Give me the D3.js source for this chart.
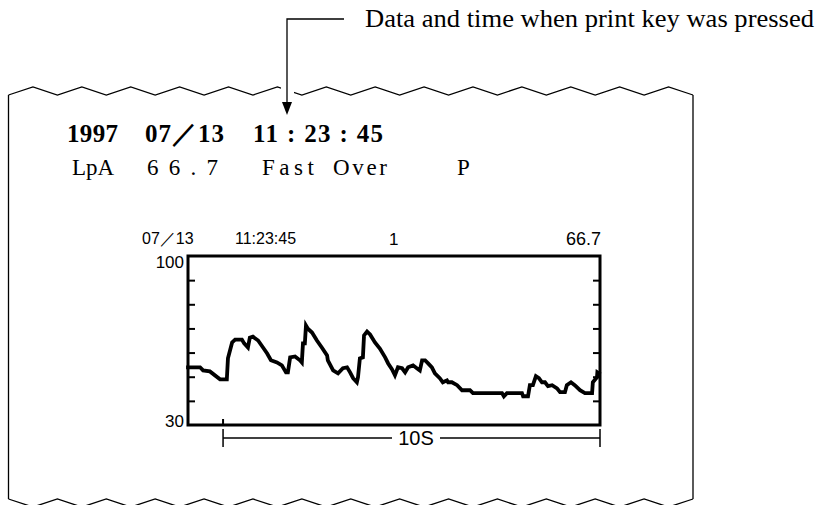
<!DOCTYPE html>
<html><head><meta charset="utf-8">
<script src="https://cdn.jsdelivr.net/npm/d3@7"></script>
<style>body{margin:0;background:#fff}svg{display:block}</style>
</head><body>
<svg id="c" width="820" height="505"></svg>
<script>
// ---- data ----
const annotation = "Data and time when print key was pressed";
const headerYear = "1997";
const headerDate = "07／13";
const headerTime = "11 : 23 : 45";
const statusTokens = ["LpA", "66.7", "Fast", "Over", "P"];
const chartDate = "07／13";
const chartTime = "11:23:45";
const chartChannel = "1";
const chartValue = "66.7";
const yDomain = [30, 100];
const yTickValues = [40, 50, 60, 70, 80, 90];
const yLabels = [100, 30];
const spanLabel = "10S";
const spanStart = 0.93, spanSeconds = 10;
const timeDomain = [0, 10.93];
// time (s) and level (dB) of the recorded trace
const times = [0.00,0.32,0.40,0.58,0.85,1.03,1.06,1.17,1.25,1.43,1.49,1.59,1.64,1.72,1.86,1.99,2.10,2.20,2.36,2.49,2.60,2.65,2.71,2.84,2.97,3.02,3.05,3.10,3.13,3.18,3.29,3.42,3.55,3.69,3.71,3.85,3.98,4.11,4.22,4.30,4.38,4.48,4.51,4.56,4.64,4.67,4.75,4.83,4.96,5.09,5.23,5.31,5.41,5.49,5.57,5.68,5.76,5.84,5.97,6.07,6.15,6.21,6.29,6.37,6.47,6.55,6.68,6.76,6.87,6.90,7.00,7.14,7.27,7.43,7.48,7.56,8.33,8.38,8.46,8.86,8.89,9.02,9.07,9.15,9.23,9.31,9.39,9.47,9.55,9.66,9.79,9.87,10.00,10.05,10.16,10.26,10.40,10.53,10.72,10.74,10.85,10.86,10.90];
const levels = [53.9,53.9,52.6,52.2,48.9,48.9,57.6,64.2,65.4,65.4,63.8,62.1,66.2,66.6,65.0,62.1,59.6,56.8,55.9,54.7,51.8,51.8,58.0,58.4,56.8,55.9,63.8,63.8,71.2,69.9,68.3,65.0,62.1,58.8,56.8,52.6,51.4,53.5,53.9,51.8,49.4,47.7,49.8,57.6,58.0,67.1,68.7,67.5,64.2,61.7,58.0,55.5,53.1,50.6,53.9,53.5,51.8,53.9,54.7,53.5,52.6,56.8,56.8,55.5,53.9,51.4,49.4,47.7,48.5,47.7,47.7,46.5,44.4,44.4,44.4,43.2,43.2,41.9,43.2,43.2,41.9,41.9,46.5,46.5,50.2,49.4,47.7,47.7,46.1,46.5,45.2,43.6,43.6,46.5,47.7,46.5,44.4,43.2,43.2,47.7,49.8,51.8,51.4];

// ---- drawing ----
const svg = d3.select("#c");
const ink = "#000";

// paper outline
const paperL = 8.5, paperR = 693, paperTop = 95, paperBot = 499, amp = 8, nZig = 28;
const zx = d3.scaleLinear().domain([0, nZig]).range([paperL, paperR]);
const topPts = d3.range(nZig + 1).map(k => [zx(k), k % 2 ? paperTop - amp : paperTop]);
const botPts = d3.range(nZig + 1).map(k => [zx(k), k % 2 ? paperBot + amp : paperBot]);
const line = d3.line();
const paper = svg.append("g").attr("fill", "none").attr("stroke", ink).attr("stroke-width", 1.3);
paper.append("path").attr("d", line(topPts));
paper.append("path").attr("d", line(botPts));
paper.append("path").attr("d", line([[paperL, paperTop], [paperL, paperBot]]));
paper.append("path").attr("d", line([[paperR, paperTop], [paperR, paperBot]]));
// gap in the top edge where the arrow passes
svg.append("rect").attr("x", 281).attr("y", 82).attr("width", 13).attr("height", 16).attr("fill", "#fff");

// annotation arrow
const arrowX = 287;
svg.append("path").attr("d", line([[344, 19], [arrowX, 19], [arrowX, 104]]))
  .attr("fill", "none").attr("stroke", ink).attr("stroke-width", 1.3);
svg.append("path").attr("d", line([[arrowX - 5, 102], [arrowX + 5, 102], [arrowX, 115]]) + "Z").attr("fill", ink);
svg.append("text").attr("x", 365).attr("y", 27)
  .attr("font-family", "Liberation Serif, Times New Roman, serif").attr("font-size", 25)
  .attr("textLength", 449).attr("lengthAdjust", "spacingAndGlyphs").text(annotation);

// header lines
const hdr = svg.append("g").attr("font-family", "Liberation Serif, serif").attr("font-weight", "bold").attr("font-size", 25).attr("fill", ink);
hdr.append("text").attr("x", 67).attr("y", 142).attr("textLength", 51).text(headerYear);
hdr.append("text").attr("x", 145).attr("y", 142).attr("textLength", 79).text(headerDate);
hdr.append("text").attr("x", 253).attr("y", 142).attr("textLength", 130).attr("xml:space", "preserve").text(headerTime);

const statX = [72, 147, 262, 333, 457];
const statW = [null, 71, 52, 54, null];
const stat = svg.append("g").attr("font-family", "Liberation Serif, serif").attr("font-size", 23).attr("fill", ink);
statusTokens.forEach((t, i) => {
  const el = stat.append("text").attr("x", statX[i]).attr("y", 175).text(t);
  if (statW[i]) el.attr("textLength", statW[i]).attr("lengthAdjust", "spacing");
});

// chart
const x = d3.scaleLinear().domain(timeDomain).range([188, 600]);
const y = d3.scaleLinear().domain(yDomain).range([425, 256]);

const lab = svg.append("g").attr("font-family", "Liberation Sans, Arial, sans-serif").attr("font-size", 16).attr("fill", ink);
lab.append("text").attr("x", 142).attr("y", 244).text(chartDate);
lab.append("text").attr("x", 235).attr("y", 244).text(chartTime);
lab.append("text").attr("x", 389).attr("y", 245).attr("font-size", 17).text(chartChannel);
lab.append("text").attr("x", 601).attr("y", 245).attr("text-anchor", "end").attr("font-size", 18).text(chartValue);
lab.append("text").attr("x", 184).attr("y", y(yLabels[0]) + 12).attr("text-anchor", "end").attr("font-size", 17).text(yLabels[0]);
lab.append("text").attr("x", 184).attr("y", y(yLabels[1]) + 2).attr("text-anchor", "end").attr("font-size", 17).text(yLabels[1]);

// inward ticks both sides
const axL = svg.append("g").attr("transform", `translate(${x.range()[0]},0)`)
  .call(d3.axisLeft(y).tickValues(yTickValues).tickSizeInner(-7).tickSizeOuter(0).tickFormat(""));
const axR = svg.append("g").attr("transform", `translate(${x.range()[1]},0)`)
  .call(d3.axisRight(y).tickValues(yTickValues).tickSizeInner(-7).tickSizeOuter(0).tickFormat(""));
[axL, axR].forEach(a => { a.select(".domain").remove(); a.selectAll("line").attr("stroke", ink).attr("stroke-width", 2); });

// frame
svg.append("rect").attr("x", x.range()[0]).attr("y", y.range()[1]).attr("width", x.range()[1] - x.range()[0]).attr("height", y.range()[0] - y.range()[1])
  .attr("fill", "none").attr("stroke", ink).attr("stroke-width", 3);

// trace
const pts = times.map((t, i) => [t, levels[i]]);
svg.append("path").datum(pts)
  .attr("d", d3.line().x(d => x(d[0])).y(d => y(d[1])))
  .attr("fill", "none").attr("stroke", ink).attr("stroke-width", 3.8).attr("stroke-linejoin", "miter").attr("stroke-linecap", "square");

// marker tick on the bottom frame and the 10 s span
const sx0 = x(spanStart), sx1 = x(spanStart + spanSeconds);
svg.append("line").attr("x1", sx0).attr("x2", sx0).attr("y1", y(yDomain[0]) - 6).attr("y2", y(yDomain[0])).attr("stroke", ink).attr("stroke-width", 2);
const spanY = 438;
const sp = svg.append("g").attr("stroke", ink).attr("stroke-width", 1.5);
sp.append("line").attr("x1", sx0).attr("x2", 392).attr("y1", spanY).attr("y2", spanY);
sp.append("line").attr("x1", 440).attr("x2", sx1).attr("y1", spanY).attr("y2", spanY);
sp.append("line").attr("x1", sx0).attr("x2", sx0).attr("y1", spanY - 9).attr("y2", spanY + 9);
sp.append("line").attr("x1", sx1).attr("x2", sx1).attr("y1", spanY - 9).attr("y2", spanY + 9);
lab.append("text").attr("x", (392 + 440) / 2).attr("y", spanY + 7).attr("text-anchor", "middle").attr("font-size", 20).text(spanLabel);
</script>
</body></html>
